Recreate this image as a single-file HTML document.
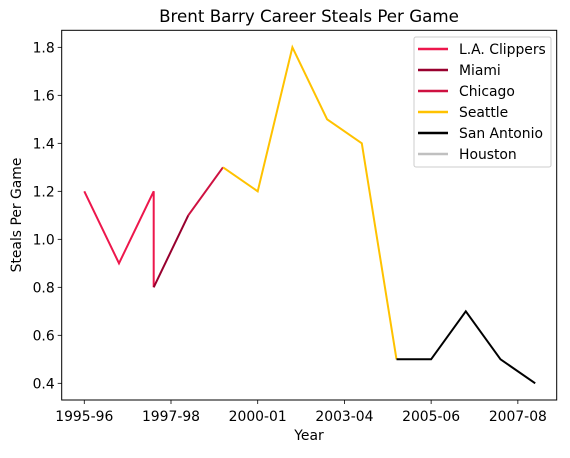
<!DOCTYPE html>
<html><head><meta charset="utf-8">
<style>
body{margin:0;background:#fff;}
svg text{font-family:"DejaVu Sans","Liberation Sans",sans-serif;fill:#000;}
</style></head>
<body>
<svg id="chart" width="570" height="453" viewBox="0 0 570 453" xmlns="http://www.w3.org/2000/svg">
<rect width="570" height="453" fill="#fff"/>
<text x="309" y="22" text-anchor="middle" font-size="16.7">Brent Barry Career Steals Per Game</text>
<g id="plot"></g>
<text x="309" y="440" text-anchor="middle" font-size="13.9">Year</text>
<text transform="translate(21,215) rotate(-90)" text-anchor="middle" font-size="13.9">Steals Per Game</text>
</svg>
<script>
const teams = ["L.A. Clippers","Miami","Chicago","Seattle","San Antonio","Houston"];
const teamColors = ["#ED174C","#98002E","#CE1141","#FFC200","#000000","#C0C0C0"];
const clippersX = [0,1,2,2];
const clippersY = [1.2,0.9,1.2,0.8];
const miamiX = [2,3];
const miamiY = [0.8,1.1];
const chicagoX = [3,4];
const chicagoY = [1.1,1.3];
const seattleX = [4,5,6,7,8,9];
const seattleY = [1.3,1.2,1.8,1.5,1.4,0.5];
const sanAntonioX = [9,10,11,12,13];
const sanAntonioY = [0.5,0.5,0.7,0.5,0.4];
const houstonX = [];
const houstonY = [];
const xTickPos = [0,2.5,5,7.5,10,12.5];
const xTickLabels = ["1995-96","1997-98","2000-01","2003-04","2005-06","2007-08"];
const yTicks = [0.4,0.6,0.8,1.0,1.2,1.4,1.6,1.8];

const L=61.7,R=556.7,T=30.3,B=400;
const xMin=-0.651,xMax=13.62;
const yMin=0.3305,yMax=1.871;
function xScale(v){return L+(v-xMin)/(xMax-xMin)*(R-L);}
function yScale(v){return B-(v-yMin)/(yMax-yMin)*(B-T);}
const NS="http://www.w3.org/2000/svg";
const g=document.getElementById('plot');
function mk(tag,attrs){const e=document.createElementNS(NS,tag);for(const k in attrs)e.setAttribute(k,attrs[k]);g.appendChild(e);return e;}

const seriesX=[clippersX,miamiX,chicagoX,seattleX,sanAntonioX,houstonX];
const seriesY=[clippersY,miamiY,chicagoY,seattleY,sanAntonioY,houstonY];
seriesX.forEach((xs,i)=>{
  if(!xs.length)return;
  const pts=xs.map((x,j)=>xScale(x).toFixed(1)+","+yScale(seriesY[i][j]).toFixed(1)).join(" ");
  const p=mk('polyline',{points:pts,fill:"none",stroke:teamColors[i],"stroke-width":2,"stroke-linejoin":"miter"});
  
  
});

const frame=mk('rect',{x:L,y:T,width:R-L,height:B-T,fill:"none",stroke:"#000","stroke-width":1});



xTickPos.forEach((v,i)=>{
  const x=xScale(v);
  const t=mk('line',{x1:x,x2:x,y1:B,y2:B+4,stroke:"#000","stroke-width":0.8});
  
  
  const tx=mk('text',{x:x,y:B+21,"text-anchor":"middle","font-size":"13.9"});
  tx.textContent=xTickLabels[i];
  
  
});
yTicks.forEach(v=>{
  const y=yScale(v);
  const t=mk('line',{x1:L-4,x2:L,y1:y,y2:y,stroke:"#000","stroke-width":0.8});
  
  
  const tx=mk('text',{x:L-7,y:y+5,"text-anchor":"end","font-size":"13.9"});
  tx.textContent=v.toFixed(1);
  
  
});

const lg=mk('rect',{x:414,y:37,width:137,height:130,rx:2,fill:"#fff","fill-opacity":0.8,stroke:"#ccc","stroke-width":1});


teams.forEach((name,i)=>{
  const y=49+i*21;
  const ln=mk('line',{x1:418,x2:448,y1:y,y2:y,stroke:teamColors[i],"stroke-width":2.5});
  
  
  const tx=mk('text',{x:459,y:y+5,"font-size":"13.9"});
  tx.textContent=name;
  
  
});
</script>
</body></html>
